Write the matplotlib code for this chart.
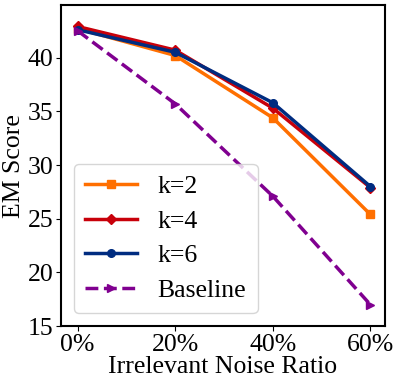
import matplotlib.pyplot as plt
import numpy as np

ratios = ["0%", "20%", "40%", "60%"]
k2 = [42.7, 40.2, 34.4, 25.4]
k4 = [42.9, 40.7, 35.3, 27.9]
k6 = [42.6, 40.5, 35.8, 28.0]
baseline = [42.5, 35.7, 27.1, 17.0]

plt.rcParams["font.family"] = "Liberation Serif"
plt.rcParams["font.size"] = 18.5

x = np.arange(len(ratios))

fig, ax = plt.subplots(figsize=(3.99, 3.86), dpi=100)
ax.plot(x, k2, color="#FF6F00", marker="s", markersize=5.5, linewidth=2.5, label="k=2")
ax.plot(x, k4, color="#C8000A", marker="D", markersize=5, linewidth=2.5, label="k=4")
ax.plot(x, k6, color="#002C80", marker="o", markersize=5.5, linewidth=2.5, label="k=6")
ax.plot(x, baseline, color="#800090", marker=">", markersize=5.5, linewidth=2.5,
        linestyle="--", label="Baseline")

ax.set_xticks(x)
ax.set_xticklabels(ratios)
ax.set_xlim(-0.17, 3.15)
ax.set_ylim(15, 44.9)
ax.set_yticks([15, 20, 25, 30, 35, 40])
ax.tick_params(pad=2)
ax.set_xlabel("Irrelevant Noise Ratio", labelpad=0)
ax.set_ylabel("EM Score", labelpad=2)
for s in ax.spines.values():
    s.set_linewidth(1.5)

ax.legend(loc="lower left", fontsize=18.5, handlelength=2.0, borderpad=0.45,
          labelspacing=0.45)

fig.subplots_adjust(left=0.153, right=0.965, top=0.987, bottom=0.155)
fig.savefig("out.png", dpi=100)
